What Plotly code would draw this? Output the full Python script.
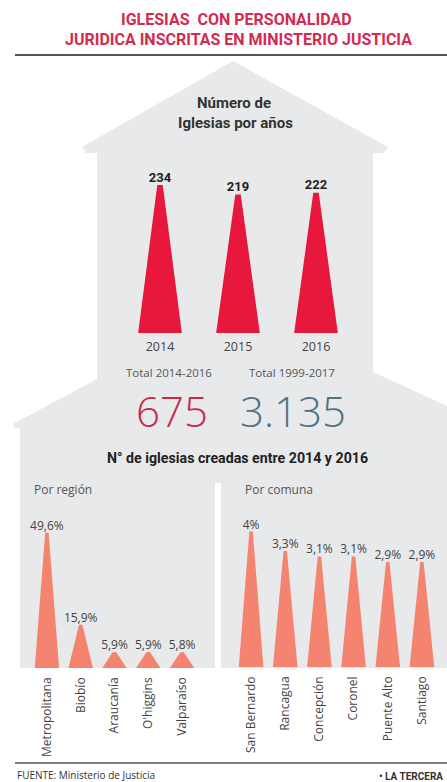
import plotly.graph_objects as go

# ---------------- data ----------------
YEARS = ["2014", "2015", "2016"]
IGLESIAS_POR_ANO = [234, 219, 222]

TOTAL_LABELS = ["Total 2014-2016", "Total 1999-2017"]
TOTAL_VALUES = ["675", "3.135"]

REGIONES = ["Metropolitana", "Biobío", "Araucanía", "O'higgins", "Valparaíso"]
REGION_PCT = [49.6, 15.9, 5.9, 5.9, 5.8]

COMUNAS = ["San Bernardo", "Rancagua", "Concepción", "Coronel", "Puente Alto", "Santiago"]
COMUNA_PCT = [4.0, 3.3, 3.1, 3.1, 2.9, 2.9]

# ---------------- helpers ----------------
W, H = 447, 782


def px(x):
    return x / W


def py(y):
    return 1 - y / H


def pct(v):
    if float(v).is_integer():
        return f"{int(v)}%"
    return f"{v:.1f}".replace(".", ",") + "%"


def spikes(values, base, half_base, half_top):
    xs, ys = [], []
    for i, v in enumerate(values):
        xs += [i - half_base, i - half_top, i + half_top, i + half_base, i - half_base, None]
        ys += [base, v, v, base, base, None]
    return xs, ys


RED = "#e8173c"
SALMON = "#f4846f"
GRAY_BG = "#e8e9ea"
FONT = "Open Sans"
BOLD_FONT = "Roboto"

fig = go.Figure()

# upper chart: churches per year
xs, ys = spikes(IGLESIAS_POR_ANO, 0, 0.28, 0.035)
fig.add_trace(go.Scatter(x=xs, y=ys, fill="toself", fillcolor=RED, line=dict(width=0),
                         mode="lines", hoverinfo="skip", xaxis="x", yaxis="y"))
fig.add_trace(go.Scatter(x=list(range(len(YEARS))), y=IGLESIAS_POR_ANO, mode="text",
                         text=[f"<b>{v}</b>" for v in IGLESIAS_POR_ANO], textposition="top center",
                         textfont=dict(family=BOLD_FONT, size=13, color="#222"),
                         cliponaxis=False, xaxis="x", yaxis="y", hoverinfo="skip"))

# lower left: by region
xs, ys = spikes(REGION_PCT, 0, 0.36, 0.05)
fig.add_trace(go.Scatter(x=xs, y=ys, fill="toself", fillcolor=SALMON, line=dict(width=0),
                         mode="lines", hoverinfo="skip", xaxis="x2", yaxis="y2"))
fig.add_trace(go.Scatter(x=list(range(len(REGIONES))), y=REGION_PCT, mode="text",
                         text=[pct(v) for v in REGION_PCT], textposition="top center",
                         textfont=dict(family=FONT, size=12, color="#444"),
                         cliponaxis=False, xaxis="x2", yaxis="y2", hoverinfo="skip"))

# lower right: by commune (axis starts below zero as in the original graphic)
COMUNA_BASE = -0.9
xs, ys = spikes(COMUNA_PCT, COMUNA_BASE, 0.36, 0.05)
fig.add_trace(go.Scatter(x=xs, y=ys, fill="toself", fillcolor=SALMON, line=dict(width=0),
                         mode="lines", hoverinfo="skip", xaxis="x3", yaxis="y3"))
fig.add_trace(go.Scatter(x=list(range(len(COMUNAS))), y=COMUNA_PCT, mode="text",
                         text=[pct(v) for v in COMUNA_PCT], textposition="top center",
                         textfont=dict(family=FONT, size=12, color="#444"),
                         cliponaxis=False, xaxis="x3", yaxis="y3", hoverinfo="skip"))

# ---------------- background house ----------------
house_pts = [(233, 61), (82, 147), (86, 153), (97, 153), (97, 379), (13, 424), (15, 428),
             (20, 428), (20, 668), (447, 668), (447, 406), (373, 372), (373, 153),
             (384, 153), (388, 147)]
path = "M " + " L ".join(f"{px(x):.5f},{py(y):.5f}" for x, y in house_pts) + " Z"

shapes = [
    dict(type="path", path=path, xref="paper", yref="paper", fillcolor=GRAY_BG,
         line=dict(width=0), layer="below"),
    dict(type="rect", xref="paper", yref="paper", x0=px(215), x1=px(221), y0=py(668), y1=py(483),
         fillcolor="white", line=dict(width=0), layer="below"),
    dict(type="line", xref="paper", yref="paper", x0=px(15), x1=1, y0=py(55), y1=py(55),
         line=dict(color="#555", width=2)),
    dict(type="line", xref="paper", yref="paper", x0=px(15), x1=1, y0=py(763), y1=py(763),
         line=dict(color="#555", width=1.5)),
]

# ---------------- texts ----------------
ann = []


def text(x, y, t, size, color, family=FONT, anchor="center", weight=None):
    f = dict(family=family, size=size, color=color)
    if weight is not None:
        f["weight"] = weight
    ann.append(dict(x=px(x), y=py(y), xref="paper", yref="paper", text=t, showarrow=False,
                    xanchor=anchor, yanchor="middle", font=f))


TITLE_RED = "#d42a50"
text(236, 19, "<b>IGLESIAS  CON PERSONALIDAD</b>", 16, TITLE_RED, BOLD_FONT)
text(238, 40, "<b>JURIDICA INSCRITAS EN MINISTERIO JUSTICIA</b>", 16, TITLE_RED, BOLD_FONT)

text(234, 103, "<b>Número de</b>", 15, "#333", BOLD_FONT)
text(235, 123, "<b>Iglesias por años</b>", 15, "#333", BOLD_FONT)

text(169, 373, TOTAL_LABELS[0], 11.5, "#555")
text(292, 373, TOTAL_LABELS[1], 11.5, "#555")
text(172, 410, TOTAL_VALUES[0], 42, "#c9284c", weight=300)
text(293, 410, TOTAL_VALUES[1], 42, "#4f7387", weight=300)

text(237, 458, "<b>N° de iglesias creadas entre 2014 y 2016</b>", 14.2, "#222", BOLD_FONT)
text(32, 489, "Por región", 12, "#555", anchor="left")
text(243, 489, "Por comuna", 12, "#555", anchor="left")

text(15, 775, "FUENTE: Ministerio de Justicia", 10, "#333", anchor="left")
text(445, 776, "<b>• LA TERCERA</b>", 10, "#333", BOLD_FONT, anchor="right")

# ---------------- axes ----------------
hidden_y = dict(visible=False, showgrid=False, zeroline=False, fixedrange=True)
base_x = dict(showgrid=False, zeroline=False, showline=False, ticks="", fixedrange=True)

fig.update_layout(
    width=W, height=H,
    margin=dict(l=0, r=0, t=0, b=0),
    paper_bgcolor="white",
    plot_bgcolor="rgba(0,0,0,0)",
    showlegend=False,
    hovermode=False,
    shapes=shapes,
    annotations=ann,
    xaxis=dict(base_x, domain=[px(121), px(355)], range=[-0.5, 2.5], anchor="y",
               tickvals=list(range(len(YEARS))), ticktext=YEARS, ticklabelstandoff=4,
               tickfont=dict(family=FONT, size=12.5, color="#444")),
    yaxis=dict(hidden_y, domain=[py(333), py(175)], range=[0, 250], anchor="x"),
    xaxis2=dict(base_x, domain=[px(30), px(199)], range=[-0.5, 4.5], anchor="y2",
                tickvals=list(range(len(REGIONES))), ticktext=REGIONES, tickangle=-90,
                ticklabelstandoff=6, tickfont=dict(family=FONT, size=12, color="#444")),
    yaxis2=dict(hidden_y, domain=[py(668), py(518)], range=[0, 55], anchor="x2"),
    xaxis3=dict(base_x, domain=[px(234), px(439)], range=[-0.5, 5.5], anchor="y3",
                tickvals=list(range(len(COMUNAS))), ticktext=COMUNAS, tickangle=-90,
                ticklabelstandoff=6, tickfont=dict(family=FONT, size=12, color="#444")),
    yaxis3=dict(hidden_y, domain=[py(667), py(515)], range=[COMUNA_BASE, 4.6], anchor="x3"),
)

fig.write_html("out.html",
               config={"displayModeBar": False, "staticPlot": True},
               post_script="document.body.style.margin='0';document.body.style.overflow='hidden';")
